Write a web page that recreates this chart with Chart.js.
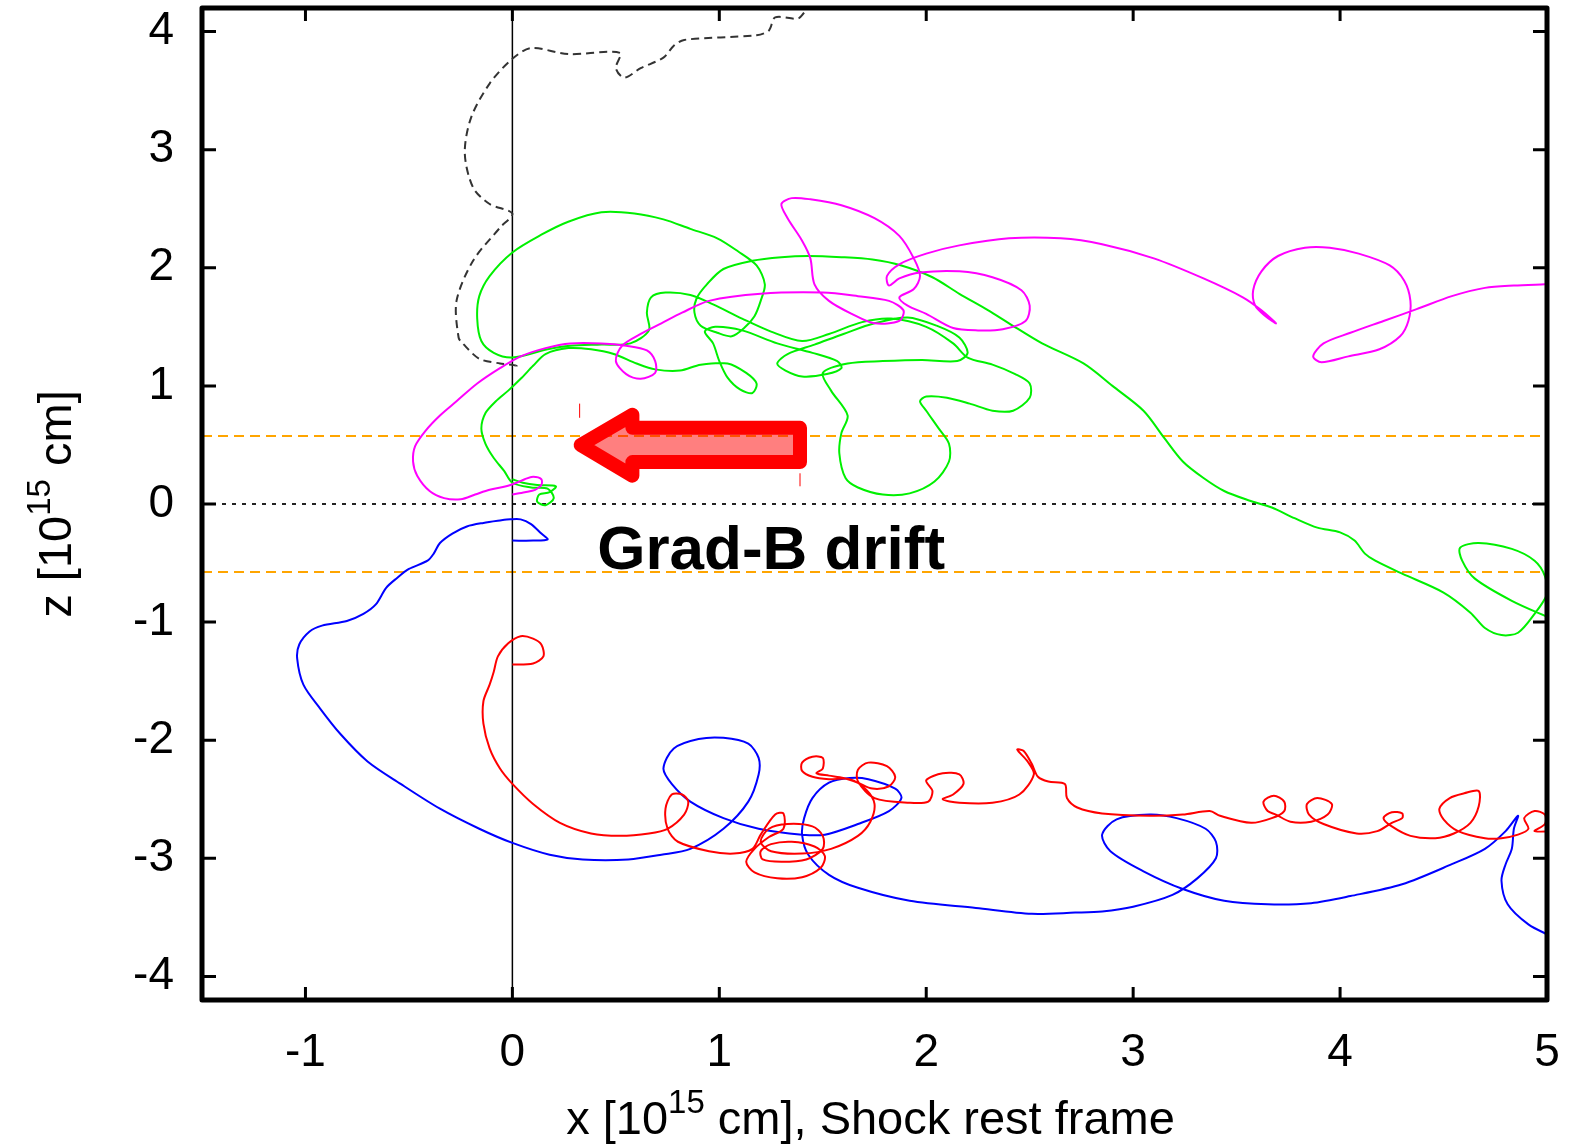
<!DOCTYPE html>
<html>
<head>
<meta charset="utf-8">
<title>Particle trajectories, shock rest frame</title>
<script src="https://cdn.jsdelivr.net/npm/chart.js@4.4.0/dist/chart.umd.min.js"></script>
<style>
  html, body { margin: 0; padding: 0; background: #fff; overflow: hidden; }
  canvas { display: block; }
</style>
</head>
<body>
<canvas id="chart" width="1573" height="1148"></canvas>
<script>
// axes (units of 1e15 cm)
const xTicks = [-1, 0, 1, 2, 3, 4, 5];
const zTicks = [-4, -3, -2, -1, 0, 1, 2, 3, 4];
const xRange = [-1.5, 5];
const zRange = [-4.2, 4.2];
const driftBand = 0.576;   // orange dashed lines at +/- this z

// trajectories, [x, z] pairs
const blackPath = [[1.41,4.16],[1.38,4.11],[1.27,4.12],[1.24,4.01],[1.18,3.97],[0.83,3.93],[0.78,3.88],[0.73,3.78],[0.62,3.69],[0.54,3.61],[0.50,3.69],[0.52,3.82],[0.27,3.81],[0.09,3.86],[0.00,3.77],[-0.11,3.56],[-0.20,3.27],[-0.23,2.97],[-0.19,2.68],[-0.11,2.54],[0.00,2.46],[-0.06,2.34],[-0.19,2.06],[-0.27,1.72],[-0.26,1.41],[-0.24,1.36],[-0.16,1.23],[-0.06,1.19],[0.02,1.17],[0.00,1.15]];

const magentaPath = [[0.00,0.08],[0.06,0.10],[0.11,0.12],[0.14,0.16],[0.14,0.21],[0.10,0.23],[0.06,0.21],[0.02,0.18],[-0.03,0.15],[-0.11,0.12],[-0.18,0.08],[-0.25,0.04],[-0.33,0.05],[-0.40,0.11],[-0.46,0.24],[-0.48,0.36],[-0.47,0.49],[-0.42,0.62],[-0.35,0.75],[-0.27,0.87],[-0.17,1.02],[-0.06,1.15],[0.04,1.25],[0.16,1.32],[0.28,1.36],[0.43,1.36],[0.55,1.34],[0.65,1.30],[0.69,1.21],[0.69,1.11],[0.62,1.06],[0.55,1.10],[0.50,1.21],[0.53,1.34],[0.62,1.44],[0.72,1.53],[0.82,1.62],[0.95,1.72],[1.20,1.78],[1.50,1.79],[1.67,1.76],[1.82,1.72],[1.89,1.64],[1.87,1.55],[1.75,1.53],[1.64,1.61],[1.53,1.72],[1.46,1.86],[1.44,2.08],[1.40,2.23],[1.33,2.42],[1.30,2.54],[1.35,2.59],[1.44,2.58],[1.59,2.53],[1.75,2.42],[1.87,2.27],[1.94,2.08],[1.97,1.93],[1.94,1.82],[1.87,1.75],[1.91,1.68],[2.00,1.61],[2.13,1.49],[2.25,1.47],[2.37,1.48],[2.48,1.55],[2.50,1.68],[2.46,1.81],[2.32,1.92],[2.16,1.97],[1.97,1.96],[1.87,1.91],[1.82,1.85],[1.81,1.93],[1.87,2.03],[2.00,2.12],[2.16,2.19],[2.40,2.25],[2.65,2.25],[2.85,2.20],[3.10,2.08],[3.34,1.91],[3.53,1.75],[3.62,1.64],[3.69,1.53],[3.64,1.59],[3.59,1.68],[3.58,1.81],[3.62,1.97],[3.70,2.10],[3.83,2.17],[3.95,2.17],[4.09,2.12],[4.24,2.02],[4.31,1.89],[4.34,1.72],[4.33,1.55],[4.29,1.42],[4.19,1.31],[4.04,1.25],[3.91,1.20],[3.87,1.25],[3.92,1.36],[4.05,1.45],[4.21,1.55],[4.37,1.65],[4.54,1.76],[4.70,1.83],[4.84,1.85],[4.99,1.86]];

const greenPath = [[0.00,0.21],[0.05,0.18],[0.12,0.16],[0.21,0.15],[0.18,0.10],[0.13,0.08],[0.12,0.02],[0.16,-0.01],[0.20,0.05],[0.17,0.13],[0.09,0.14],[0.00,0.18],[-0.04,0.28],[-0.09,0.39],[-0.13,0.51],[-0.15,0.64],[-0.13,0.77],[-0.08,0.87],[-0.02,0.96],[0.04,1.06],[0.10,1.17],[0.16,1.27],[0.27,1.32],[0.38,1.31],[0.49,1.27],[0.60,1.19],[0.69,1.14],[0.81,1.13],[0.91,1.18],[1.04,1.19],[1.13,1.11],[1.18,1.02],[1.16,0.94],[1.10,0.97],[1.04,1.07],[1.00,1.21],[0.97,1.36],[0.93,1.46],[0.98,1.50],[1.11,1.47],[1.28,1.36],[1.45,1.28],[1.57,1.21],[1.59,1.15],[1.52,1.10],[1.40,1.08],[1.32,1.13],[1.28,1.19],[1.33,1.27],[1.46,1.35],[1.60,1.44],[1.75,1.53],[1.91,1.58],[2.05,1.51],[2.16,1.41],[2.20,1.28],[2.15,1.21],[1.98,1.22],[1.79,1.21],[1.62,1.19],[1.50,1.11],[1.54,0.96],[1.62,0.75],[1.59,0.60],[1.58,0.43],[1.61,0.22],[1.67,0.14],[1.79,0.08],[1.92,0.09],[2.04,0.19],[2.11,0.36],[2.11,0.51],[2.06,0.64],[2.00,0.79],[1.97,0.87],[2.00,0.91],[2.10,0.90],[2.21,0.85],[2.32,0.79],[2.42,0.79],[2.50,0.90],[2.50,1.02],[2.43,1.10],[2.32,1.18],[2.20,1.24],[2.13,1.36],[2.00,1.50],[1.83,1.57],[1.69,1.54],[1.53,1.44],[1.40,1.38],[1.25,1.46],[1.11,1.57],[0.97,1.69],[0.86,1.77],[0.74,1.79],[0.67,1.75],[0.65,1.62],[0.66,1.47],[0.57,1.36],[0.43,1.35],[0.28,1.34],[0.17,1.31],[0.00,1.24],[-0.09,1.28],[-0.15,1.38],[-0.17,1.57],[-0.16,1.76],[-0.11,1.93],[0.00,2.13],[0.14,2.28],[0.27,2.39],[0.43,2.47],[0.59,2.46],[0.73,2.41],[0.86,2.33],[0.99,2.25],[1.09,2.14],[1.18,2.02],[1.22,1.86],[1.20,1.72],[1.17,1.59],[1.12,1.49],[1.06,1.42],[0.99,1.45],[0.91,1.51],[0.88,1.62],[0.89,1.74],[0.94,1.86],[1.02,1.99],[1.16,2.06],[1.30,2.09],[1.43,2.10],[1.59,2.09],[1.74,2.07],[1.88,2.02],[2.03,1.92],[2.16,1.78],[2.30,1.64],[2.40,1.53],[2.56,1.36],[2.76,1.19],[2.90,1.00],[3.05,0.79],[3.15,0.56],[3.24,0.36],[3.34,0.22],[3.44,0.11],[3.56,0.03],[3.67,-0.03],[3.78,-0.12],[3.89,-0.20],[4.00,-0.24],[4.07,-0.31],[4.12,-0.42],[4.17,-0.48],[4.30,-0.59],[4.50,-0.75],[4.63,-0.92],[4.70,-1.05],[4.78,-1.11],[4.86,-1.09],[4.94,-0.93],[5.00,-0.76],[4.99,-0.61],[4.94,-0.48],[4.83,-0.38],[4.67,-0.33],[4.58,-0.37],[4.59,-0.48],[4.65,-0.63],[4.83,-0.82],[5.02,-0.97]];

const bluePath = [[0.00,-0.31],[0.10,-0.31],[0.17,-0.30],[0.14,-0.25],[0.09,-0.17],[0.04,-0.13],[-0.01,-0.13],[-0.06,-0.14],[-0.14,-0.16],[-0.22,-0.19],[-0.29,-0.25],[-0.35,-0.33],[-0.38,-0.42],[-0.41,-0.48],[-0.50,-0.55],[-0.56,-0.63],[-0.61,-0.71],[-0.66,-0.85],[-0.72,-0.93],[-0.80,-0.99],[-0.92,-1.03],[-0.98,-1.08],[-1.03,-1.19],[-1.04,-1.31],[-1.01,-1.53],[-0.93,-1.73],[-0.83,-1.95],[-0.70,-2.18],[-0.54,-2.37],[-0.35,-2.58],[-0.16,-2.75],[0.00,-2.87],[0.18,-2.97],[0.34,-3.01],[0.56,-3.01],[0.72,-2.97],[0.86,-2.92],[1.02,-2.75],[1.14,-2.52],[1.19,-2.29],[1.19,-2.15],[1.14,-2.03],[1.02,-1.98],[0.90,-1.99],[0.78,-2.07],[0.73,-2.24],[0.77,-2.37],[0.86,-2.52],[1.02,-2.66],[1.19,-2.75],[1.40,-2.80],[1.51,-2.80],[1.67,-2.71],[1.82,-2.60],[1.88,-2.49],[1.85,-2.41],[1.72,-2.33],[1.63,-2.32],[1.53,-2.36],[1.45,-2.49],[1.41,-2.66],[1.40,-2.80],[1.43,-2.97],[1.53,-3.14],[1.67,-3.25],[1.92,-3.36],[2.24,-3.42],[2.51,-3.47],[2.72,-3.46],[2.85,-3.45],[3.00,-3.41],[3.19,-3.31],[3.31,-3.17],[3.40,-3.00],[3.40,-2.86],[3.35,-2.75],[3.21,-2.66],[3.08,-2.63],[2.92,-2.67],[2.85,-2.80],[2.89,-2.94],[3.05,-3.11],[3.24,-3.26],[3.44,-3.36],[3.65,-3.39],[3.86,-3.38],[4.05,-3.32],[4.30,-3.22],[4.54,-3.05],[4.70,-2.92],[4.80,-2.77],[4.86,-2.64],[4.84,-2.75],[4.83,-2.92],[4.80,-3.05],[4.78,-3.19],[4.81,-3.39],[4.91,-3.56],[5.02,-3.66]];

const redPath = [[0.00,-1.36],[0.10,-1.35],[0.15,-1.29],[0.14,-1.19],[0.10,-1.14],[0.04,-1.12],[-0.02,-1.18],[-0.07,-1.29],[-0.09,-1.42],[-0.11,-1.53],[-0.14,-1.67],[-0.14,-1.86],[-0.11,-2.07],[-0.06,-2.24],[0.00,-2.37],[0.10,-2.54],[0.23,-2.70],[0.38,-2.79],[0.52,-2.81],[0.66,-2.79],[0.75,-2.75],[0.83,-2.63],[0.85,-2.52],[0.82,-2.46],[0.77,-2.46],[0.74,-2.58],[0.75,-2.75],[0.80,-2.86],[0.95,-2.94],[1.07,-2.96],[1.16,-2.92],[1.20,-2.80],[1.27,-2.63],[1.31,-2.62],[1.31,-2.75],[1.24,-2.82],[1.17,-2.92],[1.13,-3.03],[1.17,-3.12],[1.28,-3.17],[1.40,-3.16],[1.49,-3.08],[1.51,-2.98],[1.46,-2.90],[1.35,-2.86],[1.25,-2.88],[1.20,-2.94],[1.21,-3.01],[1.30,-3.03],[1.42,-3.01],[1.50,-2.92],[1.50,-2.81],[1.45,-2.73],[1.33,-2.71],[1.24,-2.75],[1.20,-2.86],[1.25,-2.94],[1.40,-2.96],[1.54,-2.92],[1.67,-2.81],[1.73,-2.69],[1.75,-2.54],[1.71,-2.42],[1.63,-2.33],[1.53,-2.33],[1.45,-2.31],[1.40,-2.26],[1.40,-2.19],[1.45,-2.14],[1.50,-2.15],[1.50,-2.24],[1.47,-2.28],[1.53,-2.30],[1.60,-2.32],[1.67,-2.36],[1.74,-2.41],[1.82,-2.39],[1.85,-2.31],[1.81,-2.22],[1.72,-2.19],[1.67,-2.25],[1.67,-2.35],[1.75,-2.49],[1.92,-2.53],[2.01,-2.52],[2.03,-2.43],[2.00,-2.34],[2.08,-2.28],[2.16,-2.29],[2.18,-2.37],[2.13,-2.46],[2.08,-2.50],[2.16,-2.53],[2.32,-2.53],[2.45,-2.46],[2.52,-2.29],[2.49,-2.18],[2.44,-2.08],[2.47,-2.09],[2.51,-2.20],[2.54,-2.31],[2.59,-2.35],[2.67,-2.37],[2.68,-2.49],[2.73,-2.57],[2.85,-2.62],[3.08,-2.64],[3.24,-2.63],[3.37,-2.60],[3.42,-2.64],[3.57,-2.70],[3.67,-2.66],[3.73,-2.60],[3.73,-2.52],[3.68,-2.47],[3.63,-2.52],[3.65,-2.60],[3.69,-2.63],[3.76,-2.69],[3.86,-2.69],[3.94,-2.63],[3.96,-2.54],[3.89,-2.49],[3.84,-2.54],[3.85,-2.63],[3.92,-2.71],[4.08,-2.79],[4.18,-2.77],[4.25,-2.70],[4.30,-2.66],[4.30,-2.62],[4.25,-2.61],[4.21,-2.66],[4.25,-2.73],[4.34,-2.81],[4.46,-2.83],[4.55,-2.79],[4.63,-2.70],[4.67,-2.56],[4.67,-2.43],[4.60,-2.45],[4.53,-2.49],[4.48,-2.58],[4.50,-2.67],[4.57,-2.77],[4.70,-2.83],[4.78,-2.83],[4.86,-2.80],[4.91,-2.75],[4.89,-2.66],[4.94,-2.60],[4.99,-2.63],[4.99,-2.71],[4.94,-2.77],[5.02,-2.77]];

// "Grad-B drift" arrow annotation, in axis units
const arrowTip = [0.33, 0.50];
const arrowNeck = 0.58;
const arrowTail = 1.39;
const arrowHead = [0.755, 0.24];
const arrowBody = [0.645, 0.355];
const labelAt = [0.41, -0.55];

const FONT = '"Liberation Sans", Arial, Helvetica, sans-serif';

function pts(list){ return list.map(p => ({x: p[0], y: p[1]})); }

function path(label, list, color, extra){
  return Object.assign({
    label: label, data: pts(list), showLine: true, borderColor: color,
    borderWidth: 2, pointRadius: 0, tension: 0.3, fill: false, clip: 0
  }, extra || {});
}

// text with a raised "15"
function supText(ctx, parts, size, x, y){
  let cx = x;
  parts.forEach(p => {
    const s = p[1] ? Math.round(size * 0.7) : size;
    ctx.font = s + 'px ' + FONT;
    ctx.fillText(p[0], cx, p[1] ? y - size * 0.45 : y);
    cx += ctx.measureText(p[0]).width;
  });
}
function supWidth(ctx, parts, size){
  let w = 0;
  parts.forEach(p => {
    ctx.font = (p[1] ? Math.round(size * 0.7) : size) + 'px ' + FONT;
    w += ctx.measureText(p[0]).width;
  });
  return w;
}

const overlay = {
  id: 'overlay',
  afterDatasetsDraw(chart){
    const {ctx, chartArea: a, scales: {x, y}} = chart;
    const px = v => x.getPixelForValue(v), py = v => y.getPixelForValue(v);
    ctx.save();

    // red arrow
    ctx.beginPath();
    ctx.moveTo(px(arrowTip[0]), py(arrowTip[1]));
    ctx.lineTo(px(arrowNeck), py(arrowHead[0]));
    ctx.lineTo(px(arrowNeck), py(arrowBody[0]));
    ctx.lineTo(px(arrowTail), py(arrowBody[0]));
    ctx.lineTo(px(arrowTail), py(arrowBody[1]));
    ctx.lineTo(px(arrowNeck), py(arrowBody[1]));
    ctx.lineTo(px(arrowNeck), py(arrowHead[1]));
    ctx.closePath();
    ctx.fillStyle = 'rgba(255,0,0,0.5)';
    ctx.fill();
    ctx.lineJoin = 'round';
    ctx.lineWidth = 14;
    ctx.strokeStyle = '#ff0000';
    ctx.stroke();
    // stray marks around it
    ctx.lineWidth = 1;
    ctx.beginPath();
    ctx.moveTo(px(0.325), py(0.85)); ctx.lineTo(px(0.325), py(0.73));
    ctx.moveTo(px(1.39), py(0.26)); ctx.lineTo(px(1.39), py(0.15));
    ctx.stroke();

    ctx.fillStyle = '#000';
    ctx.textBaseline = 'alphabetic';
    ctx.textAlign = 'left';
    ctx.font = 'bold 62px ' + FONT;
    ctx.fillText('Grad-B drift', px(labelAt[0]), py(labelAt[1]));

    // inward tick marks on all four sides
    ctx.strokeStyle = '#000';
    ctx.lineWidth = 3;
    ctx.beginPath();
    xTicks.forEach(v => {
      const X = px(v);
      ctx.moveTo(X, a.bottom); ctx.lineTo(X, a.bottom - 13);
      ctx.moveTo(X, a.top); ctx.lineTo(X, a.top + 13);
    });
    zTicks.forEach(v => {
      const Y = py(v);
      ctx.moveTo(a.left, Y); ctx.lineTo(a.left + 14, Y);
      ctx.moveTo(a.right, Y); ctx.lineTo(a.right - 14, Y);
    });
    ctx.stroke();

    ctx.lineWidth = 5;
    ctx.strokeRect(a.left, a.top, a.right - a.left, a.bottom - a.top);

    // axis titles
    const xt = [['x [10', 0], ['15', 1], [' cm], Shock rest frame', 0]];
    const wx = supWidth(ctx, xt, 47);
    supText(ctx, xt, 47, (a.left + a.right) / 2 - wx / 2 - 4, a.bottom + 134);

    const yt = [['z [10', 0], ['15', 1], [' cm]', 0]];
    const wy = supWidth(ctx, yt, 47);
    ctx.translate(71, (a.top + a.bottom) / 2);
    ctx.rotate(-Math.PI / 2);
    supText(ctx, yt, 47, -wy / 2, 0);
    ctx.restore();
  }
};

new Chart(document.getElementById('chart').getContext('2d'), {
  type: 'scatter',
  data: {
    datasets: [
      path('red', redPath, '#ff0000'),
      path('blue', bluePath, '#0000ff'),
      path('magenta', magentaPath, '#ff00ff'),
      path('green', greenPath, '#00f000'),
      path('black', blackPath, '#333333', {borderDash: [8, 5]}),
      path('shock', [[0, zRange[0]], [0, zRange[1]]], '#000000', {borderWidth: 1.5, tension: 0}),
      path('z=0', [[xRange[0], 0], [xRange[1], 0]], '#222222', {borderDash: [4, 6], tension: 0}),
      path('band+', [[xRange[0], driftBand], [xRange[1], driftBand]], '#ffa500', {borderDash: [10, 6], tension: 0}),
      path('band-', [[xRange[0], -driftBand], [xRange[1], -driftBand]], '#ffa500', {borderDash: [10, 6], tension: 0})
    ]
  },
  options: {
    responsive: false,
    animation: false,
    devicePixelRatio: 1,
    layout: {padding: {top: 8, right: 26, left: 0, bottom: 0}},
    plugins: {legend: {display: false}, tooltip: {enabled: false}},
    scales: {
      x: {
        type: 'linear', min: xRange[0], max: xRange[1],
        grid: {display: false}, border: {display: false},
        afterBuildTicks: s => { s.ticks = xTicks.map(v => ({value: v})); },
        afterFit: s => { s.height = 148; s.paddingLeft = 0; s.paddingRight = 0; },
        ticks: {color: '#000', font: {family: FONT, size: 46}, padding: 18, maxRotation: 0}
      },
      y: {
        type: 'linear', min: zRange[0], max: zRange[1],
        grid: {display: false}, border: {display: false},
        afterBuildTicks: s => { s.ticks = zTicks.map(v => ({value: v})); },
        afterFit: s => { s.width = 202; s.paddingTop = 0; s.paddingBottom = 0; },
        ticks: {color: '#000', font: {family: FONT, size: 46}, padding: 20}
      }
    }
  },
  plugins: [overlay]
});
</script>
</body>
</html>
